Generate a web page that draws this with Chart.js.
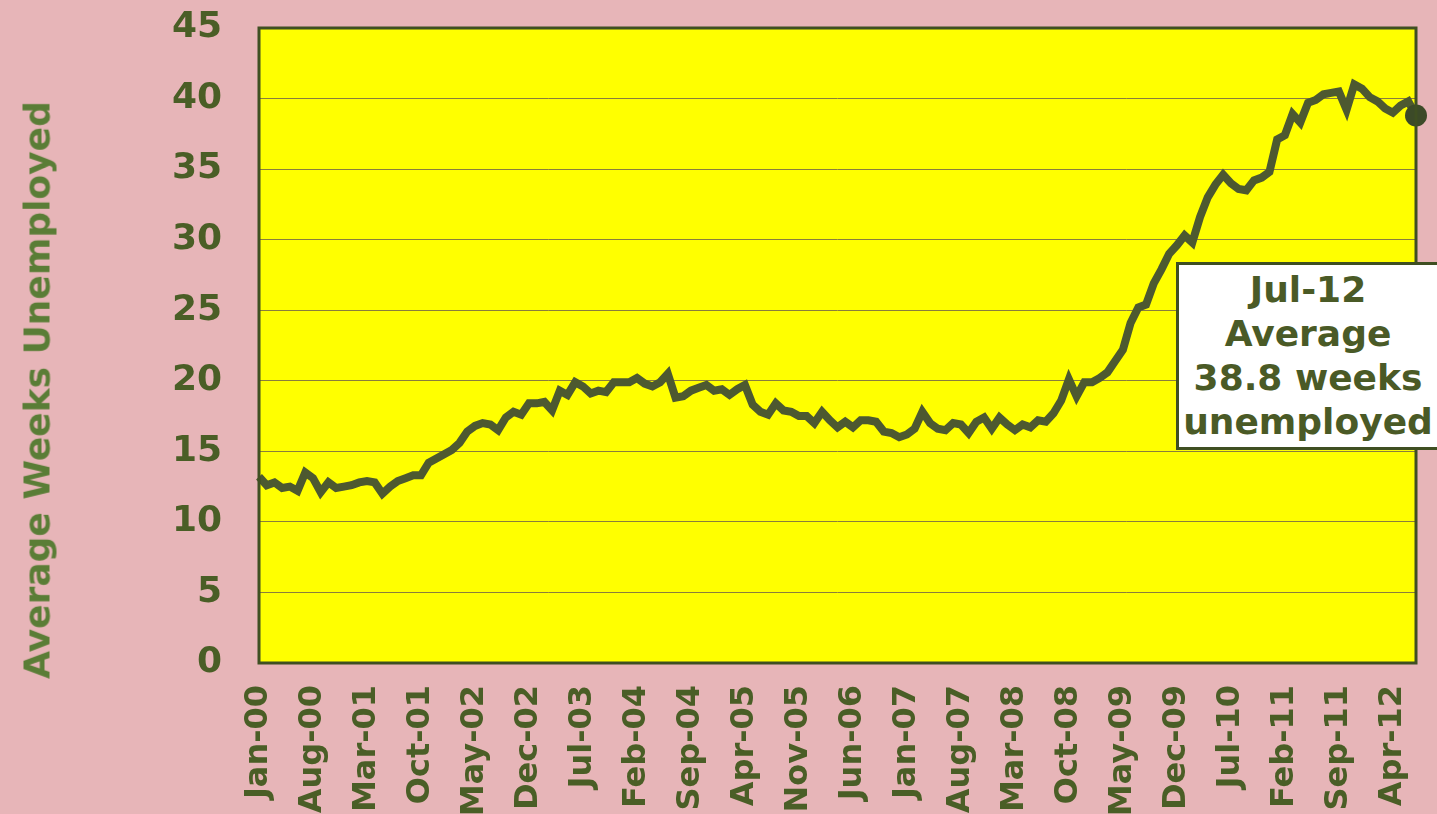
<!DOCTYPE html>
<html>
<head>
<meta charset="utf-8">
<title>Average Weeks Unemployed</title>
<script src="https://cdn.jsdelivr.net/npm/chart.js@4/dist/chart.umd.min.js"></script>
<style>
  html, body { margin: 0; padding: 0; background: #e7b5b8; }
  #wrap { position: relative; width: 1437px; height: 814px; overflow: hidden; }
  #ytitle {
    position: absolute; left: 37px; top: 390px; transform: translate(-50%, -50%) rotate(-90deg);
    font: bold 36px "DejaVu Sans", Verdana, sans-serif; color: #5a7d36; white-space: nowrap;
  }
  #note {
    position: absolute; left: 1176px; top: 262px; width: 264px; height: 188px;
    box-sizing: border-box; background: #fff; border: 3px solid #3f4f22;
    font: bold 36px "DejaVu Sans", Verdana, sans-serif; color: #4a5a26;
    text-align: center; line-height: 44px; padding-top: 3px; white-space: nowrap;
  }
</style>
</head>
<body>
<div id="wrap">
  <canvas id="chart" width="1437" height="814"></canvas>
  <div id="ytitle">Average Weeks Unemployed</div>
  <div id="note">Jul-12<br>Average<br>38.8 weeks<br>unemployed</div>
</div>
<script>
"use strict";

// Month names and years for the category axis
const monthNames = ["Jan", "Feb", "Mar", "Apr", "May", "Jun", "Jul", "Aug", "Sep", "Oct", "Nov", "Dec"];
const years = ["00", "01", "02", "03", "04", "05", "06", "07", "08", "09", "10", "11", "12"];

// Average weeks unemployed, Jan-00 .. Jul-12
const weeks2000 = [13.2, 12.6, 12.8, 12.4, 12.5, 12.2, 13.5, 13.1, 12.1, 12.8, 12.4, 12.5];
const weeks2001 = [12.6, 12.8, 12.9, 12.8, 12.0, 12.5, 12.9, 13.1, 13.3, 13.3, 14.2, 14.5];
const weeks2002 = [14.8, 15.1, 15.6, 16.4, 16.8, 17.0, 16.9, 16.5, 17.4, 17.8, 17.6, 18.4];
const weeks2003 = [18.4, 18.5, 17.9, 19.3, 19.0, 19.9, 19.6, 19.1, 19.3, 19.2, 19.9, 19.9];
const weeks2004 = [19.9, 20.2, 19.8, 19.6, 19.9, 20.5, 18.8, 18.9, 19.3, 19.5, 19.7, 19.3];
const weeks2005 = [19.4, 19.0, 19.4, 19.7, 18.3, 17.8, 17.6, 18.4, 17.9, 17.8, 17.5, 17.5];
const weeks2006 = [17.0, 17.8, 17.2, 16.7, 17.1, 16.7, 17.2, 17.2, 17.1, 16.4, 16.3, 16.0];
const weeks2007 = [16.2, 16.6, 17.8, 17.0, 16.6, 16.5, 17.0, 16.9, 16.3, 17.1, 17.4, 16.6];
const weeks2008 = [17.4, 16.9, 16.5, 16.9, 16.7, 17.2, 17.1, 17.7, 18.6, 20.1, 18.9, 19.9];
const weeks2009 = [19.9, 20.2, 20.6, 21.4, 22.2, 24.1, 25.2, 25.4, 26.9, 27.9, 29.0, 29.6];
const weeks2010 = [30.3, 29.8, 31.6, 33.0, 33.9, 34.6, 34.0, 33.6, 33.5, 34.2, 34.4, 34.8];
const weeks2011 = [37.1, 37.4, 38.9, 38.3, 39.7, 39.9, 40.3, 40.4, 40.5, 39.2, 41.0, 40.7];
const weeks2012 = [40.1, 39.8, 39.3, 39.0, 39.5, 39.8, 38.8];

const values = [].concat(
  weeks2000, weeks2001, weeks2002, weeks2003, weeks2004, weeks2005, weeks2006,
  weeks2007, weeks2008, weeks2009, weeks2010, weeks2011, weeks2012
);

// One category per month, "Jan-00" style
const labels = [];
years.forEach((yy) => monthNames.forEach((m) => labels.push(`${m}-${yy}`)));
labels.length = values.length;

const yTicks = [0, 5, 10, 15, 20, 25, 30, 35, 40, 45];

const FONT = "'DejaVu Sans', Verdana, sans-serif";
const TEXT = "#4a5e26";
const LINE = "#4d5930";

// Yellow plot area and its dark frame
const plotFrame = {
  id: "plotFrame",
  beforeDraw(chart) {
    const { ctx, chartArea: a } = chart;
    ctx.save();
    ctx.fillStyle = "#ffff00";
    ctx.fillRect(a.left, a.top, a.right - a.left, a.bottom - a.top);
    ctx.restore();
  },
  afterDatasetsDraw(chart) {
    const { ctx, chartArea: a } = chart;
    ctx.save();
    ctx.strokeStyle = "#3f4f22";
    ctx.lineWidth = 3;
    ctx.strokeRect(a.left, a.top, a.right - a.left, a.bottom - a.top);
    ctx.restore();
  }
};

new Chart(document.getElementById("chart"), {
  type: "line",
  data: {
    labels: labels,
    datasets: [{
      data: values,
      borderColor: LINE,
      borderWidth: 8,
      pointRadius: (c) => (c.dataIndex === values.length - 1 ? 11 : 0),
      pointBackgroundColor: "#3c4a28",
      pointBorderWidth: 0,
      tension: 0,
      clip: false
    }]
  },
  options: {
    responsive: false,
    animation: false,
    layout: { padding: { top: 28, right: 21, left: 0, bottom: 0 } },
    plugins: { legend: { display: false }, tooltip: { enabled: false } },
    scales: {
      x: {
        offset: false,
        grid: { display: false },
        border: { display: false },
        afterFit: (s) => {
          s.height = 151;
          s.paddingLeft = 0;
          s.paddingRight = 0;
        },
        ticks: {
          autoSkip: false,
          minRotation: 90,
          maxRotation: 90,
          padding: 14,
          color: TEXT,
          font: { family: FONT, weight: "bold", size: 32 },
          callback: (v, i) => (i % 7 === 0 ? labels[i] : null)
        }
      },
      y: {
        min: 0,
        max: 45,
        afterFit: (s) => {
          s.width = 259;
          s.paddingTop = 0;
          s.paddingBottom = 0;
        },
        afterBuildTicks: (s) => { s.ticks = yTicks.map((v) => ({ value: v })); },
        grid: { color: "#8a7d3c", lineWidth: 1, drawTicks: false },
        border: { display: false },
        ticks: {
          padding: 37,
          color: TEXT,
          font: { family: FONT, weight: "bold", size: 36 }
        }
      }
    }
  },
  plugins: [plotFrame]
});
</script>
</body>
</html>
